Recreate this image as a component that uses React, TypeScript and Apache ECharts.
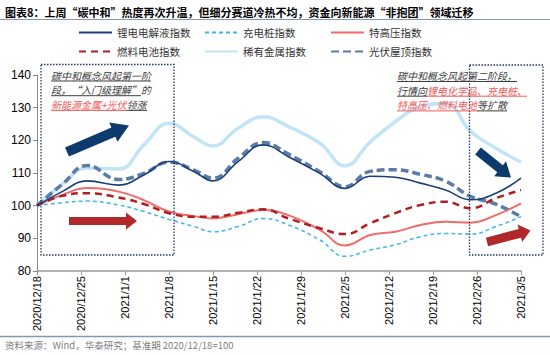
import React, { useEffect, useRef } from "react";
import * as echarts from "echarts";

// ---------- data ----------
const sampleDates = [
  "2020/12/18", "2020/12/22", "2020/12/26", "2020/12/31", "2021/1/4",
  "2021/1/8", "2021/1/12", "2021/1/15", "2021/1/19", "2021/1/23",
  "2021/1/27", "2021/2/1", "2021/2/5", "2021/2/9", "2021/2/13",
  "2021/2/17", "2021/2/21", "2021/2/25", "2021/3/1", "2021/3/5",
];
const tickLabels = [
  "2020/12/18", "2020/12/25", "2021/1/1", "2021/1/8", "2021/1/15", "2021/1/22",
  "2021/1/29", "2021/2/5", "2021/2/12", "2021/2/19", "2021/2/26", "2021/3/5",
];
const lithiumElectrolyte = [100, 104.3, 107.6, 106.3, 109.4, 113.5, 110.4, 107.6, 113.5, 118.6, 115, 109.9, 105.3, 109, 108.7, 106.9, 104.8, 101.8, 103.8, 108.4];
const chargingPile = [100, 100.9, 101.4, 100.2, 98.2, 95.8, 93.6, 92, 93.6, 96.1, 94.1, 89.5, 84.5, 86.4, 88, 90.5, 91.5, 91.3, 93.6, 96.6];
const uhv = [100, 103.3, 105.4, 104.3, 101.7, 98.2, 96.8, 96.1, 97.4, 98.7, 97.1, 92.6, 87.8, 91, 92, 94.1, 95.1, 94.8, 97.1, 100.7];
const fuelCell = [100, 103, 103.8, 102.5, 100.5, 97.7, 96.6, 96.6, 97.8, 98.9, 96.1, 93.1, 91.3, 94.6, 97.7, 100.2, 101.2, 99.2, 102.3, 104.8];
const rareMetal = [100, 106.5, 111.5, 111.2, 118.6, 125.2, 121, 118.3, 123.7, 127.2, 124.2, 119.1, 112.2, 119.5, 125.7, 130.3, 131.3, 122.7, 117.6, 113.3];
const pvRoof = [100, 106.5, 112.3, 108, 109.9, 113.3, 110.9, 108.4, 114.5, 119.3, 115.8, 110.4, 105.8, 110.5, 111, 109.6, 107.5, 102.8, 100.5, 96.6];

const seriesNames = ["锂电电解液指数", "充电桩指数", "特高压指数", "燃料电池指数", "稀有金属指数", "光伏屋顶指数"];

const CJK = '"Noto Sans CJK SC", sans-serif';
const LATIN = 'Arial, "Liberation Sans", sans-serif';

function dayOffset(d: string) {
  const base = new Date(sampleDates[0] + " 00:00:00").getTime();
  return Math.round((new Date(d + " 00:00:00").getTime() - base) / 86400000);
}

function pairs(values: number[]) {
  return values.map((v, i) => [dayOffset(sampleDates[i]), v]);
}

function arrowPoints(x1: number, y1: number, x2: number, y2: number, bw: number, hw: number, hl: number) {
  const dx = x2 - x1, dy = y2 - y1;
  const L = Math.hypot(dx, dy);
  const ux = dx / L, uy = dy / L;
  const nx = -uy, ny = ux;
  const bx = x2 - ux * hl, by = y2 - uy * hl;
  return [
    [x1 + nx * bw, y1 + ny * bw],
    [bx + nx * bw, by + ny * bw],
    [bx + nx * hw, by + ny * hw],
    [x2, y2],
    [bx - nx * hw, by - ny * hw],
    [bx - nx * bw, by - ny * bw],
    [x1 - nx * bw, y1 - ny * bw],
  ];
}

const DARK = "#404040";
const RED = "#f05a5a";

type Seg = { t: string; red?: boolean; w: number };

function annotationLine(x: number, y: number, segs: Seg[], fs: number) {
  const els: any[] = [];
  let text = "";
  segs.forEach((s) => {
    text += `{${s.red ? "r" : "d"}|${s.t}}`;
  });
  els.push({
    type: "text",
    x,
    y,
    z: 50,
    style: {
      text,
      verticalAlign: "middle",
      rich: {
        d: { fill: DARK, fontSize: fs, lineHeight: fs + 1, fontStyle: "italic", fontFamily: CJK },
        r: { fill: RED, fontSize: fs, lineHeight: fs + 1, fontStyle: "italic", fontFamily: CJK },
      },
    },
  });
  let cx = x;
  segs.forEach((s) => {
    els.push({
      type: "line",
      z: 50,
      shape: { x1: cx, y1: y + 6, x2: cx + s.w, y2: y + 6 },
      style: { stroke: s.red ? RED : DARK, lineWidth: 1 },
    });
    cx += s.w;
  });
  return els;
}

export default function App() {
  const ref = useRef<HTMLDivElement>(null);

  useEffect(() => {
    if (!ref.current) return;
    document.body.style.margin = "0";
    const chart = echarts.init(ref.current, undefined, { renderer: "svg" });

    const styles: any[] = [
      { color: "#1a3f7a", width: 1.6, type: "solid", z: 6 },
      { color: "#41b4ee", width: 1.5, type: [4, 3], z: 4 },
      { color: "#f26b6b", width: 2, type: "solid", z: 4 },
      { color: "#b01e1e", width: 2.5, type: [7, 5], z: 5 },
      { color: "#c3e4f6", width: 3.5, type: "solid", z: 2 },
      { color: "#5a7ca6", width: 3.5, type: [8, 4], z: 3 },
    ];
    const datasets = [lithiumElectrolyte, chargingPile, uhv, fuelCell, rareMetal, pvRoof];

    const series = seriesNames.map((name, i) => ({
      name,
      type: "line",
      data: pairs(datasets[i]),
      smooth: 0.45,
      symbol: "none",
      z: styles[i].z,
      lineStyle: { color: styles[i].color, width: styles[i].width, type: styles[i].type },
      itemStyle: { color: styles[i].color },
    }));

    const legendPos = [
      [78, 34], [204, 34], [330, 34],
      [78, 53], [204, 53], [330, 53],
    ];
    const legends = seriesNames.map((name, i) => ({
      data: [name],
      left: legendPos[i][0],
      top: legendPos[i][1] - 7,
      padding: 0,
      itemWidth: 33,
      itemHeight: 14,
      itemGap: 0,
      selectedMode: false,
      itemStyle: { opacity: 0, borderWidth: 0 },
      textStyle: { fontSize: 10.5, color: "#333", fontFamily: CJK },
    }));

    const fs = 10;
    const graphic: any[] = [
      {
        type: "text",
        x: 5,
        y: 12,
        style: {
          text: "图表8：上周“碳中和”热度再次升温，但细分赛道冷热不均，资金向新能源“非抱团”领域迁移",
          fontSize: 11,
          fontWeight: "bold",
          fontFamily: CJK,
          fill: "#000",
          verticalAlign: "middle",
        },
      },
      { type: "line", shape: { x1: 0, y1: 19.5, x2: 550, y2: 19.5 }, style: { stroke: "#8497b0", lineWidth: 1 } },
      { type: "line", shape: { x1: 0, y1: 336.5, x2: 550, y2: 336.5 }, style: { stroke: "#8497b0", lineWidth: 1.5 } },
      {
        type: "text",
        x: 5,
        y: 345,
        style: {
          text: "资料来源：Wind，华泰研究；基准期 2020/12/18=100",
          fontSize: 9.5,
          fontFamily: CJK,
          fill: "#808080",
          verticalAlign: "middle",
        },
      },
      {
        type: "rect",
        z: 40,
        shape: { x: 41, y: 64.5, width: 133, height: 190.5 },
        style: { fill: "none", stroke: "#1f3864", lineWidth: 1.3, lineDash: [1.5, 1.5] },
      },
      {
        type: "rect",
        z: 40,
        shape: { x: 469.5, y: 65, width: 73.5, height: 190 },
        style: { fill: "none", stroke: "#1f3864", lineWidth: 1.3, lineDash: [1.5, 1.5] },
      },
      ...annotationLine(51, 75, [{ t: "碳中和概念风起第一阶", w: 10 * fs }], fs),
      ...annotationLine(51, 89.7, [{ t: "段，“入门级理解”的", w: 9 * fs }], fs),
      ...annotationLine(51, 104.4, [{ t: "新能源金属+光伏", red: true, w: 7.6 * fs }, { t: "领涨", w: 2 * fs }], fs),
      ...annotationLine(397, 75.5, [{ t: "碳中和概念风起第二阶段，", w: 12 * fs }], fs),
      ...annotationLine(397, 90.2, [{ t: "行情向", w: 3 * fs }, { t: "锂电化学品、充电桩、", red: true, w: 10 * fs }], fs),
      ...annotationLine(397, 104.9, [{ t: "特高压、燃料电池", red: true, w: 8 * fs }, { t: "等扩散", w: 3 * fs }], fs),
      {
        type: "polygon",
        z: 45,
        shape: { points: arrowPoints(67, 152, 129, 125.5, 5, 10.5, 17) },
        style: { fill: "#0d3b6e" },
      },
      {
        type: "polygon",
        z: 45,
        shape: { points: arrowPoints(478, 151, 511, 177.5, 4.5, 9.5, 14) },
        style: { fill: "#0d3b6e" },
      },
      {
        type: "polygon",
        z: 45,
        shape: { points: arrowPoints(69, 221, 137, 221, 4, 8.5, 11) },
        style: { fill: "#b0282a" },
      },
      {
        type: "polygon",
        z: 45,
        shape: { points: arrowPoints(487, 242, 530.5, 230.5, 4.5, 9, 11) },
        style: { fill: "#b0282a" },
      },
    ];

    chart.setOption({
      animation: false,
      backgroundColor: "#fff",
      legend: legends,
      grid: { left: 37, right: 29, top: 75, bottom: 84, containLabel: false },
      xAxis: {
        type: "value",
        min: 0,
        max: 77,
        interval: 7,
        splitLine: { show: false },
        axisLine: { show: true, lineStyle: { color: "#999", width: 1.5 } },
        axisTick: { show: true, length: 4, lineStyle: { color: "#999" } },
        axisLabel: {
          rotate: 90,
          margin: 5,
          fontSize: 11,
          fontFamily: LATIN,
          color: "#000",
          formatter: (v: number) => tickLabels[Math.round(v / 7)] ?? "",
        },
      },
      yAxis: {
        type: "value",
        min: 80,
        max: 140,
        interval: 10,
        splitLine: { show: false },
        axisLine: { show: true, lineStyle: { color: "#888", width: 1 } },
        axisTick: { show: true, length: 4, lineStyle: { color: "#888" } },
        axisLabel: { fontSize: 12, fontFamily: LATIN, color: "#000", margin: 6 },
      },
      series,
      graphic,
    });

    return () => chart.dispose();
  }, []);

  return <div ref={ref} style={{ width: 550, height: 355 }} />;
}
